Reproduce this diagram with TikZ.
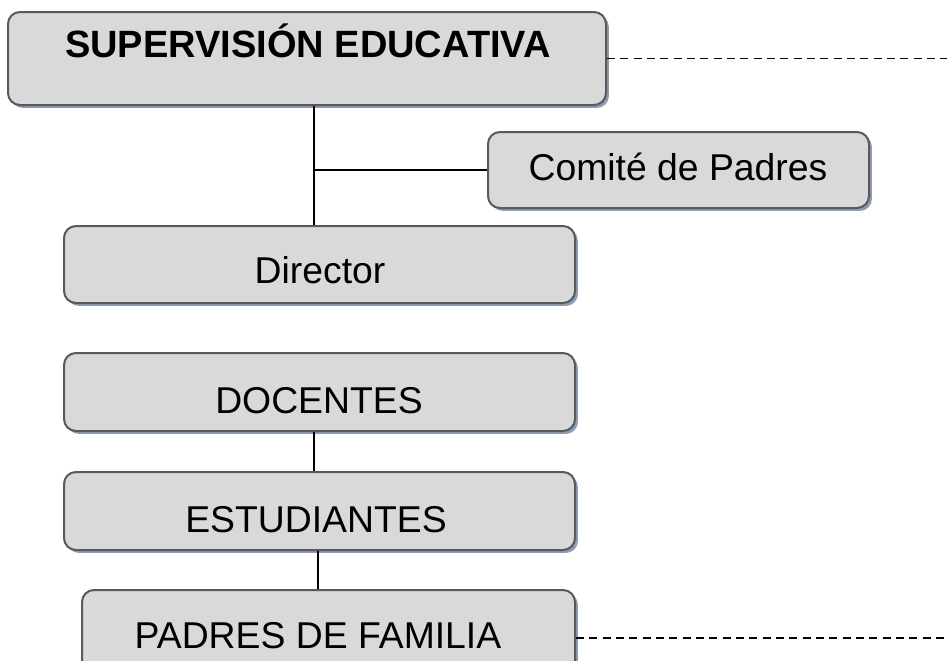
\documentclass[tikz,border=0pt]{standalone}
\usepackage{fontspec}
\setmainfont{Liberation Sans}
\usetikzlibrary{fit,shadows}
\definecolor{boxfill}{HTML}{D9D9D9}
\definecolor{boxline}{HTML}{595959}
\definecolor{boxshadow}{HTML}{8C9DB5}
\tikzset{
	orgbox/.style={draw=boxline, fill=boxfill, line width=1.5pt, rounded corners=9pt, inner sep=0pt,
		drop shadow={shadow xshift=2.2pt, shadow yshift=-2.2pt, fill=boxshadow, opacity=1}},
	orgtext/.style={anchor=base, inner sep=0pt, font=\fontsize{28}{34}\selectfont},
	link/.style={line width=1.5pt},
	dashlink/.style={line width=1.4pt, dash pattern=on 6pt off 4pt}
}
\begin{document}
\begin{tikzpicture}[x=0.75pt, y=-0.75pt]
	\useasboundingbox (0,0) rectangle (947,661);
	\clip (0,0) rectangle (947,661);
	% boxes
	\node[orgbox, fit={(8,12) (606,105)}] (sup) {};
	\node[orgbox, fit={(488,132) (869,208)}] (com) {};
	\node[orgbox, fit={(64,226) (575,303)}] (dir) {};
	\node[orgbox, fit={(64,353) (575,431)}] (doc) {};
	\node[orgbox, fit={(64,472) (575,550)}] (est) {};
	\node[orgbox, fit={(82,590) (575,686)}] (pad) {};
	% texts
	\node[orgtext, font=\fontsize{28.5}{34}\selectfont\bfseries] (sup-t) at (308,57) {SUPERVISIÓN EDUCATIVA};
	\node[orgtext] (com-t) at (678,180) {Comité de Padres};
	\node[orgtext] (dir-t) at (320,283) {Director};
	\node[orgtext] (doc-t) at (319,413) {DOCENTES};
	\node[orgtext] (est-t) at (316,532) {ESTUDIANTES};
	\node[orgtext] (pad-t) at (318,648) {PADRES DE FAMILIA};
	% connectors
	\coordinate (trunk) at (314,0);
	\coordinate (lower) at (318,0);
	\coordinate (rightedge) at (947,0);
	\draw[link] (sup.south -| trunk) -- (dir.north -| trunk);
	\draw[link] (trunk |- com.west) -- (com.west);
	\draw[link] (doc.south -| trunk) -- (est.north -| trunk);
	\draw[link] (est.south -| lower) -- (pad.north -| lower);
	\draw[dashlink] (sup.east) -- (sup.east -| rightedge);
	\draw[dashlink] (pad.east) -- (pad.east -| rightedge);
\end{tikzpicture}
\end{document}
